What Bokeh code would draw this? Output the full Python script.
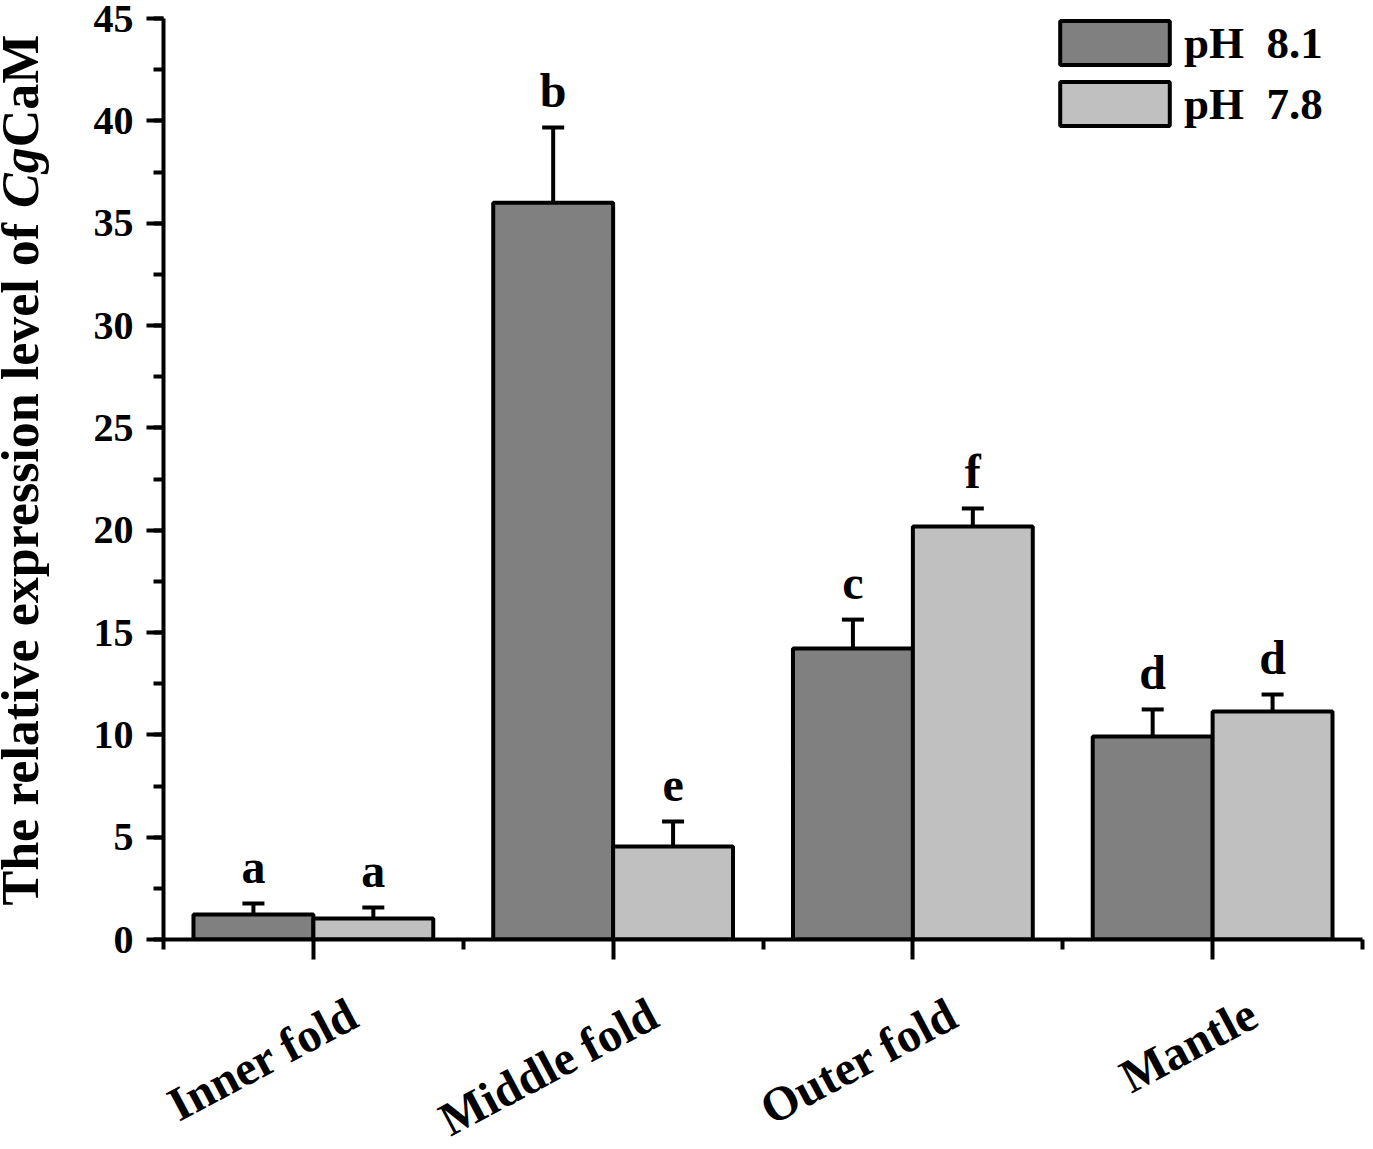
import math
import numpy as np
from bokeh.plotting import figure
from bokeh.layouts import row
from bokeh.models import (ColumnDataSource, Range1d, FixedTicker, SingleIntervalTicker,
                          Whisker, TeeHead, LinearAxis)
from bokeh.transform import dodge
from bokeh.core.properties import value
from bokeh.embed import file_html
from bokeh.resources import INLINE

# ---------------- data ----------------
categories = ["Inner fold", "Middle fold", "Outer fold", "Mantle"]
ph81 = [1.22, 36.0, 14.22, 9.92]
ph81_err = [0.54, 3.67, 1.41, 1.32]
ph78 = [1.03, 4.54, 20.18, 11.14]
ph78_err = [0.53, 1.22, 0.88, 0.83]
letters81 = ["a", "b", "c", "d"]
letters78 = ["a", "e", "f", "d"]
series_names = ["pH  8.1", "pH  7.8"]
y_max = 45
y_step = 5
ylabel_parts = ["The relative expression level of ", "Cg", "CaM"]

FONT = "Liberation Serif"
C_DARK = "#808080"
C_LIGHT = "#c0c0c0"

x_pos = np.arange(1, len(categories) + 1, dtype=float)

# ---------------- layout constants ----------------
LEFT_W = 55
FRAME_W, FRAME_H = 1199, 921
TOP, BOTTOM = 18, 200
ppu = FRAME_H / y_max
BASE_SHIFT = 0.417          # empirical: rendered baseline lies this many em below anchor

p = figure(frame_width=FRAME_W, frame_height=FRAME_H,
           min_border_left=163 - LEFT_W, min_border_top=TOP, min_border_right=8,
           min_border_bottom=BOTTOM,
           x_range=Range1d(0.5, len(categories) + 0.5), y_range=Range1d(0, y_max),
           output_backend="svg", toolbar_location=None, tools="")
p.outline_line_color = None
p.grid.visible = False
p.background_fill_color = "white"
p.border_fill_color = "white"

LET_FS = 48
let_off = (17 + BASE_SHIFT * LET_FS) / ppu
src81 = ColumnDataSource(dict(x=x_pos, top=ph81, up=np.add(ph81, ph81_err),
                              lab_y=np.add(np.add(ph81, ph81_err), let_off), lab=letters81))
src78 = ColumnDataSource(dict(x=x_pos, top=ph78, up=np.add(ph78, ph78_err),
                              lab_y=np.add(np.add(ph78, ph78_err), let_off), lab=letters78))

bw = 0.4
for src, off, col, name in [(src81, -bw / 2, C_DARK, series_names[0]),
                            (src78, bw / 2, C_LIGHT, series_names[1])]:
    p.vbar(x=dodge("x", off), top="top", bottom=0, width=bw, source=src,
           fill_color=col, line_color="black", line_width=4, legend_label=name)
    p.add_layout(Whisker(source=src, base=dodge("x", off), upper="up", lower="top",
                         line_width=4, line_color="black",
                         upper_head=TeeHead(size=22, line_width=4, line_color="black"),
                         lower_head=None))
    p.text(x=dodge("x", off), y="lab_y", text="lab", source=src,
           text_align="center", text_baseline="alphabetic",
           text_font=value(FONT), text_font_style="bold", text_font_size=f"{LET_FS}px",
           text_color="black")

# ---------------- axes ----------------
xa = p.xaxis[0]
xa.ticker = FixedTicker(ticks=list(x_pos), minor_ticks=list(x_pos - 0.5) + [x_pos[-1] + 0.5])
xa.major_label_overrides = {int(v): "" for v in x_pos}
xa.major_label_text_font_size = "1px"
xa.major_label_standoff = 0
xa.axis_line_width = 4
xa.major_tick_line_width = 4
xa.minor_tick_line_width = 4
xa.major_tick_out = 20
xa.major_tick_in = 0
xa.minor_tick_out = 10
xa.minor_tick_in = 0

# category labels on a label-only axis, shifted slightly right of the ticks
shift = 0.135
p.extra_x_ranges = {"cat": Range1d(0.5 - shift, len(categories) + 0.5 - shift)}
cax = LinearAxis(x_range_name="cat", ticker=FixedTicker(ticks=list(x_pos)),
                 major_label_overrides={int(v): c for v, c in zip(x_pos, categories)},
                 major_label_orientation=math.radians(28),
                 axis_line_color=None, major_tick_line_color=None, minor_tick_line_color=None,
                 major_label_standoff=45,
                 major_label_text_font=FONT, major_label_text_font_style="bold",
                 major_label_text_font_size="48px", major_label_text_color="black")
p.add_layout(cax, "below")

ya = p.yaxis[0]
ya.ticker = SingleIntervalTicker(interval=y_step, num_minor_ticks=2)
ya.axis_line_width = 4
ya.major_tick_line_width = 4
ya.minor_tick_line_width = 4
ya.major_tick_out = 17
ya.major_tick_in = 0
ya.minor_tick_out = 10
ya.minor_tick_in = 0
ya.major_label_standoff = 13
ya.major_label_text_font = FONT
ya.major_label_text_font_style = "bold"
ya.major_label_text_font_size = "40px"
ya.major_label_text_color = "black"

# legend (area glyphs are drawn with a 10% inset inside the glyph box)
lg = p.legend[0]
lg.location = (883, 808)
lg.padding = 0
lg.margin = 0
lg.spacing = 6
lg.glyph_width = 137
lg.glyph_height = 55
lg.label_height = 55
lg.label_standoff = 1
lg.label_text_font = FONT
lg.label_text_font_style = "bold"
lg.label_text_font_size = "45px"
lg.label_text_color = "black"
lg.border_line_color = None
lg.background_fill_alpha = 0

# ---------------- y-axis title strip (mixed bold / bold-italic) ----------------
q = figure(frame_width=LEFT_W, frame_height=FRAME_H,
           min_border_left=0, min_border_right=0, min_border_top=TOP, min_border_bottom=BOTTOM,
           x_range=Range1d(0, LEFT_W), y_range=p.y_range,
           x_axis_location=None, y_axis_location=None,
           output_backend="svg", toolbar_location=None, tools="")
q.outline_line_color = None
q.grid.visible = False
q.background_fill_color = "white"
q.border_fill_color = "white"

W_BOLD = {" ": 250, "T": 667, "h": 556, "e": 444, "r": 444, "l": 278, "a": 500, "t": 333,
          "i": 278, "v": 500, "x": 500, "p": 556, "s": 389, "o": 500, "n": 556, "f": 333,
          "C": 722, "M": 944, "g": 500}
W_BI = {"C": 667, "g": 500}
fs = 52
ycur = 1.66                     # data value where the title starts
for part, st, tb in zip(ylabel_parts, ["bold", "bold italic", "bold"], [W_BOLD, W_BI, W_BOLD]):
    q.text(x=[42 - BASE_SHIFT * fs], y=[ycur], text=[part], angle=math.pi / 2,
           text_align="left", text_baseline="alphabetic",
           text_font=value(FONT), text_font_style=st, text_font_size=f"{fs}px",
           text_color="black")
    ycur += sum(tb.get(c, 500) for c in part) / 1000 * fs / ppu

layout = row(q, p, spacing=0)
open("out.html", "w").write(file_html(layout, INLINE))
